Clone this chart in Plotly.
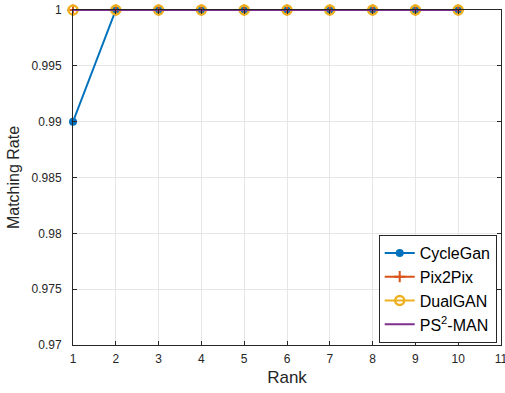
import plotly.graph_objects as go

ranks = [1, 2, 3, 4, 5, 6, 7, 8, 9, 10]
cyclegan = [0.99, 1, 1, 1, 1, 1, 1, 1, 1, 1]
pix2pix = [1, 1, 1, 1, 1, 1, 1, 1, 1, 1]
dualgan = [1, 1, 1, 1, 1, 1, 1, 1, 1, 1]
ps2man = [1, 1, 1, 1, 1, 1, 1, 1, 1, 1]
x_ticks = [1, 2, 3, 4, 5, 6, 7, 8, 9, 10, 11]
y_ticks = [0.97, 0.975, 0.98, 0.985, 0.99, 0.995, 1]
y_labels = ["0.97", "0.975", "0.98", "0.985", "0.99", "0.995", "1"]

fig = go.Figure()
fig.add_trace(go.Scatter(x=ranks, y=cyclegan, name="CycleGan", mode="lines+markers",
                         line=dict(color="#0072BD", width=2),
                         marker=dict(symbol="circle", size=8, color="#0072BD"),
                         cliponaxis=False))
fig.add_trace(go.Scatter(x=ranks, y=pix2pix, name="Pix2Pix", mode="lines+markers",
                         line=dict(color="#D95319", width=2),
                         marker=dict(symbol="cross-thin", size=8,
                                     line=dict(color="#D95319", width=2)),
                         cliponaxis=False))
fig.add_trace(go.Scatter(x=ranks, y=dualgan, name="DualGAN", mode="lines+markers",
                         line=dict(color="#EDB120", width=2),
                         marker=dict(symbol="circle-open", size=9,
                                     line=dict(color="#EDB120", width=2.5)),
                         cliponaxis=False))
fig.add_trace(go.Scatter(x=ranks, y=ps2man, name="PS<sup>2</sup>-MAN", mode="lines",
                         line=dict(color="#7E2F8E", width=2),
                         cliponaxis=False))

axis_common = dict(showline=True, linecolor="#262626", linewidth=1, mirror="ticks",
                   ticks="inside", ticklen=4, tickcolor="#262626", automargin=False,
                   showgrid=True, gridcolor="#E6E6E6", gridwidth=1, zeroline=False,
                   ticklabeloverflow="allow",
                   tickfont=dict(family="Liberation Sans, Arial", size=12, color="#262626"))

fig.update_xaxes(range=[1, 11], tickvals=x_ticks, ticklabelstandoff=3,
                 title=dict(text="Rank", font=dict(family="Liberation Sans, Arial", size=17, color="#262626"), standoff=5),
                 **axis_common)
fig.update_yaxes(range=[0.97, 1], tickvals=y_ticks, ticktext=y_labels, ticklabelstandoff=8,
                 title=dict(text="Matching Rate", font=dict(family="Liberation Sans, Arial", size=16, color="#262626"), standoff=7),
                 **axis_common)

fig.update_layout(
    width=505, height=393,
    margin=dict(l=73, r=4, t=10, b=48),
    plot_bgcolor="white", paper_bgcolor="white",
    font=dict(family="Liberation Sans, Arial", color="#262626"),
    legend=dict(x=0.99, y=0.006, xanchor="right", yanchor="bottom",
                bgcolor="white", bordercolor="#262626", borderwidth=1,
                font=dict(family="Liberation Sans, Arial", size=16, color="black"),
                tracegroupgap=0, itemwidth=30),
)

fig.write_html("out.html", config={"displayModeBar": False},
               post_script="document.body.style.margin='0';")
